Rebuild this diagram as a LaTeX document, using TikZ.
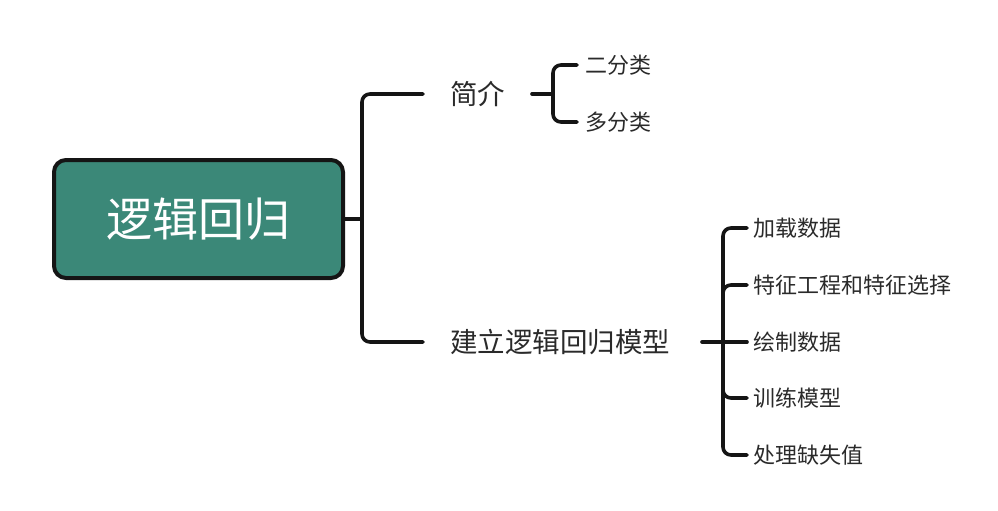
\documentclass[tikz,border=0pt]{standalone}
\usepackage{fontspec}
\setmainfont{Noto Sans CJK SC}
\definecolor{teal1}{HTML}{3B8878}
\definecolor{ink}{HTML}{151515}
\definecolor{txt}{HTML}{2A2A2A}
\begin{document}
\begin{tikzpicture}[x=1pt,y=-1pt,
  lbl/.style={anchor=west,inner sep=0pt,text=txt},
  big/.style={lbl,font=\fontsize{27.5}{30}\selectfont},
  small/.style={lbl,font=\fontsize{22}{25}\selectfont},
  conn/.style={draw=ink,line width=3.6pt,rounded corners=8pt,line cap=round},
  rootbox/.style={draw=ink,line width=4pt,fill=teal1,rounded corners=12pt,minimum width=289pt,minimum height=118pt,inner sep=0pt,text=white,font=\fontsize{46}{50}\selectfont}]
\useasboundingbox (0,0) rectangle (998,511);
\node[rootbox] (root) at (198.5,219) {逻辑回归};
\node[big] (intro) at (450,94) {简介};
\node[big] (build) at (450,342) {建立逻辑回归模型};
\node[small] (c1) at (585,65) {二分类};
\node[small] (c2) at (585,122) {多分类};
\node[small] (l1) at (753,228) {加载数据};
\node[small] (l2) at (753,285) {特征工程和特征选择};
\node[small] (l3) at (753,342) {绘制数据};
\node[small] (l4) at (753,398) {训练模型};
\node[small] (l5) at (753,455) {处理缺失值};
% root connector
\coordinate (rj) at (362,219);
\coordinate (rt) at (423,94);
\coordinate (rb) at (423,342);
\draw[conn] (root.east) -- (rj);
\draw[conn] (rt) -- (362,94) -- (rj) -- (362,342) -- (rb);
% intro connector
\coordinate (is) at (532,94);
\coordinate (ij) at (553,94);
\coordinate (ie1) at (577,65);
\coordinate (ie2) at (577,122);
\draw[conn] (is) -- (ij);
\draw[conn] (ie1) -- (553,65) -- (ij) -- (553,122) -- (ie2);
% build connector
\coordinate (bs) at (702,342);
\coordinate (bj) at (723,342);
\coordinate (be1) at (747,228);
\coordinate (be2) at (747,285);
\coordinate (be3) at (747,342);
\coordinate (be4) at (747,398);
\coordinate (be5) at (747,455);
\draw[conn] (bs) -- (be3);
\draw[conn] (be1) -- (723,228) -- (bj) -- (723,455) -- (be5);
\draw[conn] (be2) -- (723,285) -- (723,320);
\draw[conn] (be4) -- (723,398) -- (723,370);
\end{tikzpicture}
\end{document}
